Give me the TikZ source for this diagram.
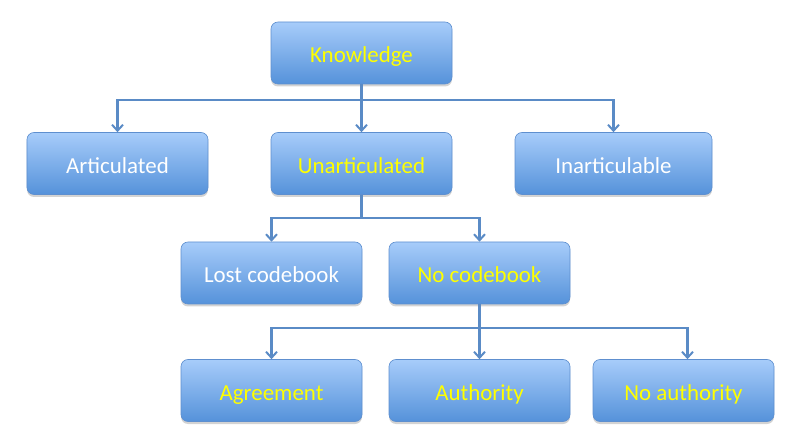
\documentclass[tikz,border=0pt]{standalone}
\usepackage{fontspec}
\setmainfont{Carlito}
\usetikzlibrary{positioning,shadows,arrows.meta}

\definecolor{boxtop}{HTML}{A7CCFA}
\definecolor{boxbot}{HTML}{5592DA}
\definecolor{boxline}{HTML}{5E8FCF}
\definecolor{linkcol}{HTML}{5A8BC6}
\definecolor{txtyel}{HTML}{FFFF00}

\tikzset{
  box/.style={rounded corners=7bp, draw=boxline, line width=0.6bp,
    top color=boxtop, bottom color=boxbot,
    minimum width=181bp, minimum height=62bp, inner sep=0pt,
    text height=19.5bp, text depth=0pt,
    font=\fontsize{23}{26}\selectfont,
    drop shadow={shadow xshift=0bp, shadow yshift=-2.5bp, opacity=0.35}},
  ybox/.style={box, text=txtyel},
  wbox/.style={box, text=white},
  link/.style={draw=linkcol, line width=2.4bp,
    -{Straight Barb[length=6bp,width=11bp,line width=2bp]}}
}

\begin{document}
\begin{tikzpicture}[x=1bp,y=-1bp]
 \useasboundingbox (0,0) rectangle (797,443);
 \node[ybox] (know) at (361.5,53) {Knowledge};
 \node[wbox] (art) at (117.5,163.5) {Articulated};
 \node[ybox] (unart) at (361.5,163.5) {Unarticulated};
 \node[wbox,minimum width=197bp] (inart) at (613.5,163.5) {Inarticulable};
 \node[wbox] (lost) at (271.5,273) {Lost codebook};
 \node[ybox] (nocode) at (479.5,273) {No codebook};
 \node[ybox] (agree) at (271.5,390.5) {Agreement};
 \node[ybox] (auth) at (479.5,390.5) {Authority};
 \node[ybox] (noauth) at (683.5,390.5) {No authority};
 % buses
 \coordinate (bus1) at (361.5,100);
 \coordinate (bus2) at (361.5,218);
 \coordinate (bus3) at (479.5,328);
 \path[link]
  (know.south) -- (bus1) -| (art.north);
 \path[link]
  (bus1) -- (unart.north);
 \path[link]
  (bus1) -| (inart.north);
 \path[link]
  (unart.south) -- (bus2) -| (lost.north);
 \path[link]
  (bus2) -| (nocode.north);
 \path[link]
  (nocode.south) -- (bus3) -| (agree.north);
 \path[link]
  (bus3) -- (auth.north);
 \path[link]
  (bus3) -| ([xshift=4bp]noauth.north);
\end{tikzpicture}
\end{document}
